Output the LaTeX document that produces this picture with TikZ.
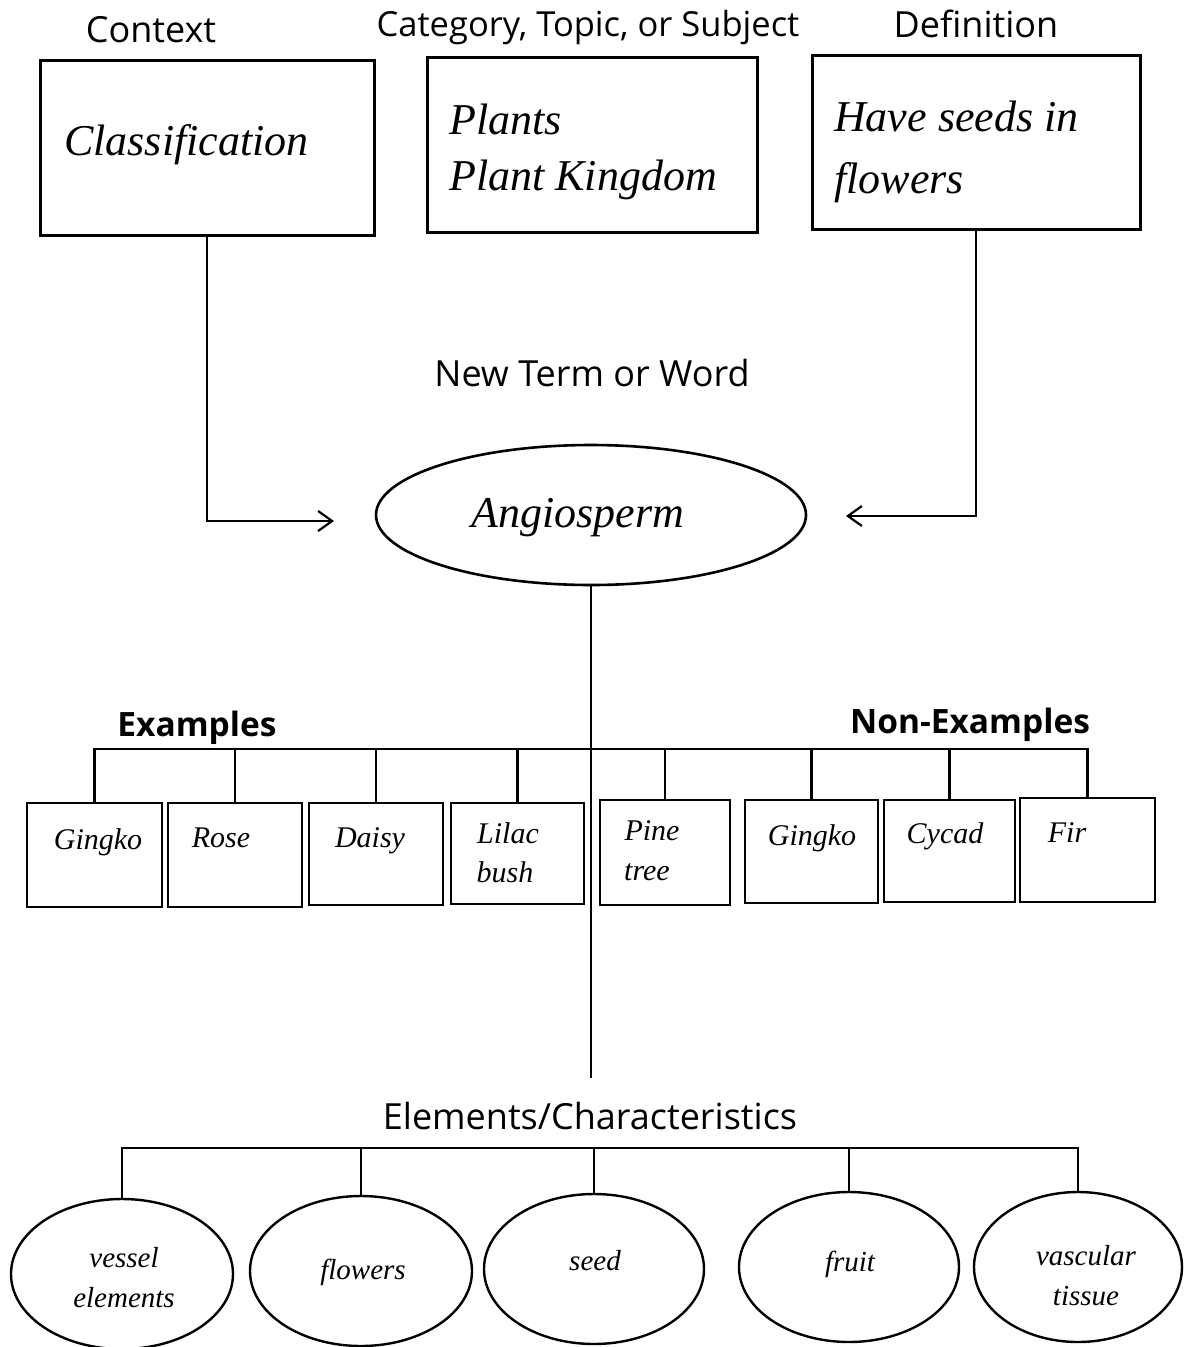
\documentclass[tikz,border=0pt]{standalone}
\usepackage{fontspec}
\setmainfont{Liberation Serif}
\newfontfamily\labfont{Open Sans}
\usetikzlibrary{shapes.geometric,arrows.meta}
\begin{document}
\begin{tikzpicture}[x=1pt,y=-1pt,
  topbox/.style={draw,line width=3pt,inner sep=0pt},
  smallbox/.style={draw,line width=2.8pt,inner sep=0pt},
  bigoval/.style={draw,ellipse,line width=2.6pt,inner sep=0pt},
  smalloval/.style={draw,ellipse,line width=2.4pt,inner sep=0pt},
  conn/.style={line width=2.2pt},
  arr/.style={line width=2.2pt,-{Straight Barb[length=14pt,width=20pt,line width=2.2pt]}},
  head/.style={font=\labfont\fontsize{36}{42}\selectfont,inner sep=0pt},
  headc/.style={font=\labfont\fontsize{34.5}{40}\selectfont,inner sep=0pt},
  headb/.style={font=\labfont\bfseries\fontsize{33.5}{40}\selectfont,inner sep=0pt},
  bigit/.style={font=\itshape\fontsize{44}{50}\selectfont,inner sep=0pt},
  smallit/.style={font=\itshape\fontsize{30}{36}\selectfont,inner sep=0pt},
  ovalit/.style={font=\itshape\fontsize{29}{34}\selectfont,inner sep=0pt}
]
\useasboundingbox[fill=white] (0,0) rectangle (1187,1347);

% top headings
\node[head,anchor=base] (hctx) at (151,42) {Context};
\node[headc,anchor=base] (hcat) at (588,36) {Category, Topic, or Subject};
\node[head,anchor=base] (hdef) at (976,37) {Definition};

% top boxes
\node[topbox,minimum width=334pt,minimum height=175pt] (ctx) at (207,147.5) {};
\node[topbox,minimum width=330pt,minimum height=175pt] (cat) at (592,144.5) {};
\node[topbox,minimum width=328pt,minimum height=174pt] (def) at (976,142) {};

\node[bigit,anchor=base west] (tclass) at (64,155) {Classification};
\node[bigit,anchor=base west] (tpl1) at (449,134) {Plants};
\node[bigit,anchor=base west] (tpl2) at (449,190) {Plant Kingdom};
\node[bigit,anchor=base west] (tdef1) at (834,131) {Have seeds in};
\node[bigit,anchor=base west] (tdef2) at (834,193) {flowers};

% centre term
\node[head,anchor=base] (hnew) at (592,386) {New Term or Word};
\node[bigoval,minimum width=430pt,minimum height=140pt] (ang) at (591,515) {};
\node[bigit,anchor=base] (tang) at (578,527) {Angiosperm};

\coordinate (ain) at (334,521);
\coordinate (bin) at (846,516);
\draw[arr] (ctx.south) |- (ain);
\draw[arr] (def.south) |- (bin);

% stem
\coordinate (stemend) at (591,1078);
\draw[conn] (ang.south) -- (stemend);

% examples
\node[headb,anchor=base] (hex) at (197,736) {Examples};
\node[headb,anchor=base] (hnon) at (970,733) {Non-Examples};

\node[smallbox,minimum width=135pt,minimum height=104pt] (b1) at (94.5,855) {};
\node[smallbox,minimum width=134pt,minimum height=104pt] (b2) at (235,855) {};
\node[smallbox,minimum width=134pt,minimum height=102pt] (b3) at (376,854) {};
\node[smallbox,minimum width=133pt,minimum height=101pt] (b4) at (517.5,853.5) {};
\node[smallbox,minimum width=130pt,minimum height=105pt] (b5) at (665,852.5) {};
\node[smallbox,minimum width=133pt,minimum height=103pt] (b6) at (811.5,851.5) {};
\node[smallbox,minimum width=131pt,minimum height=102pt] (b7) at (949.5,851) {};
\node[smallbox,minimum width=135pt,minimum height=104pt] (b8) at (1087.5,850) {};

\coordinate (exj) at (591,749);
\draw[conn] (b1.north) |- (b8.north |- exj) -- (b8.north);
\foreach \b in {b2,b3,b4,b5,b6,b7}{\draw[conn] (\b.north) -- (\b.north |- exj);}

\node[smallit,anchor=base] (t1) at (98,849) {Gingko};
\node[smallit,anchor=base] (t2) at (221,847) {Rose};
\node[smallit,anchor=base] (t3) at (370,847) {Daisy};
\node[smallit,anchor=base] (t4a) at (508,843) {Lilac};
\node[smallit,anchor=base] (t4b) at (505,882) {bush};
\node[smallit,anchor=base] (t5a) at (652,840) {Pine};
\node[smallit,anchor=base] (t5b) at (647,880) {tree};
\node[smallit,anchor=base] (t6) at (812,845) {Gingko};
\node[smallit,anchor=base] (t7) at (945,843) {Cycad};
\node[smallit,anchor=base] (t8) at (1067,842) {Fir};

% elements
\node[head,anchor=base] (hel) at (590,1129) {Elements/Characteristics};

\node[smalloval,minimum width=222pt,minimum height=150pt] (e1) at (122,1274) {};
\node[smalloval,minimum width=222pt,minimum height=150pt] (e2) at (361,1271) {};
\node[smalloval,minimum width=220pt,minimum height=150pt] (e3) at (594,1269) {};
\node[smalloval,minimum width=220pt,minimum height=150pt] (e4) at (849,1267) {};
\node[smalloval,minimum width=208pt,minimum height=150pt] (e5) at (1078,1267) {};

\coordinate (elj) at (593,1148);
\draw[conn] (e1.north) |- (e5.north |- elj) -- (e5.north);
\foreach \e in {e2,e3,e4}{\draw[conn] (\e.north) -- (\e.north |- elj);}

\node[ovalit,anchor=base] (v1a) at (124,1267) {vessel};
\node[ovalit,anchor=base] (v1b) at (124,1307) {elements};
\node[ovalit,anchor=base] (v2) at (363,1279) {flowers};
\node[ovalit,anchor=base] (v3) at (595,1270) {seed};
\node[ovalit,anchor=base] (v4) at (850,1271) {fruit};
\node[ovalit,anchor=base] (v5a) at (1086,1265) {vascular};
\node[ovalit,anchor=base] (v5b) at (1086,1305) {tissue};
\end{tikzpicture}
\end{document}
